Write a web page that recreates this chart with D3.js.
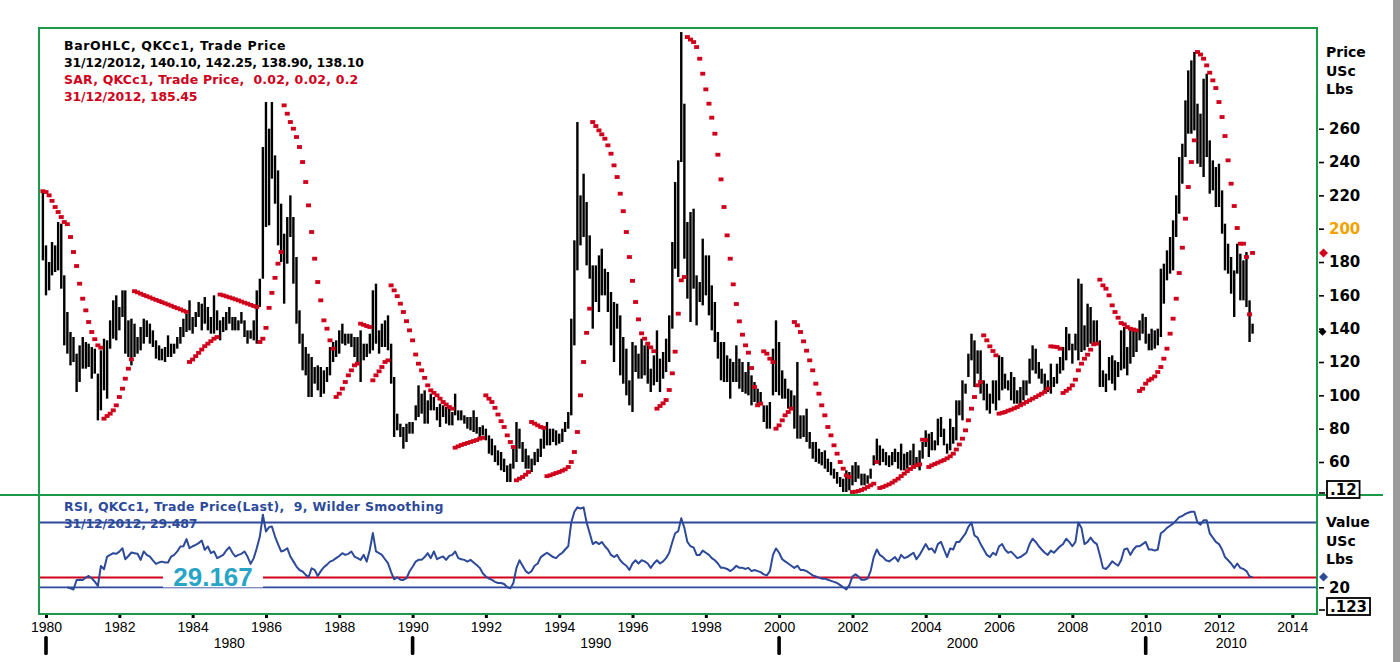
<!DOCTYPE html>
<html>
<head>
<meta charset="utf-8">
<script src="https://cdn.jsdelivr.net/npm/d3@7"></script>
<style>
  body { margin: 0; background: #fff; }
  svg { display: block; }
</style>
</head>
<body>
<div id="chart"></div>
<script>
// monthly bars, first one is Dec 1979
const firstMonth = new Date(1979, 11, 1);

const highs = [223,
  190,180,192,190,204,203,172,150,138,135,125,130,
  135,132,131,129,128,113,127,134,133,145,157,160,
  153,163,163,145,146,143,135,141,146,145,143,139,
  133,130,128,129,136,131,131,135,141,146,149,157,
  147,150,156,155,159,153,147,160,151,145,147,150,
  153,147,147,145,150,145,139,139,145,163,170,249,
  276,260,276,244,235,215,197,207,220,207,183,151,
  137,129,125,123,117,118,117,115,117,129,132,133,
  139,143,137,137,137,135,135,139,131,131,137,163,
  167,139,143,145,148,131,111,89,83,81,83,84,
  84,94,106,101,103,97,101,99,93,95,94,93,
  92,90,101,91,91,88,87,87,91,87,81,82,
  80,76,74,70,67,66,62,58,59,68,84,80,
  72,68,64,62,66,68,74,80,84,80,80,79,
  77,80,84,90,146,193,264,220,233,216,196,178,
  178,184,188,176,174,162,156,155,148,135,128,109,
  132,130,125,134,130,130,116,124,139,122,126,134,
  148,192,228,241,318,275,204,210,212,172,168,194,
  184,184,166,156,138,132,132,124,122,120,130,122,
  120,114,120,112,108,104,102,94,94,96,128,145,
  132,115,110,104,103,100,120,88,88,92,78,72,
  72,68,66,67,62,60,56,54,51,50,55,54,
  58,60,58,53,53,52,56,64,74,70,68,66,
  64,66,68,66,71,65,66,67,71,63,67,72,
  79,77,78,73,86,87,80,71,86,81,97,97,
  109,107,125,137,133,127,127,109,107,101,109,109,
  124,123,113,109,114,111,103,105,109,109,122,130,
  128,120,116,113,109,119,111,119,123,129,141,137,
  131,137,170,167,142,155,153,145,145,133,115,113,
  123,124,121,120,139,141,129,139,139,138,145,149,
  147,137,140,139,140,176,179,187,195,205,220,243,
  251,277,295,301,306,275,269,290,293,253,241,237,
  239,223,203,191,183,175,191,185,181,186,157,143];

const lows = [181,
  160,163,172,174,175,164,130,125,118,120,102,108,
  116,116,117,110,113,85,91,103,98,128,134,133,
  139,147,125,123,118,123,125,127,131,135,131,129,
  122,121,121,120,123,123,125,128,131,135,138,139,
  137,141,147,139,143,139,137,137,139,133,138,139,
  143,139,139,139,143,135,131,134,133,131,153,170,
  201,202,230,215,190,180,155,179,195,167,143,131,
  115,112,99,99,107,103,99,101,108,112,120,123,
  125,131,130,131,129,123,119,108,121,123,125,127,
  131,125,129,129,127,107,75,79,75,68,72,77,
  77,85,87,89,83,83,91,91,85,81,87,83,
  82,82,88,85,85,83,80,79,78,77,74,76,
  73,65,64,60,58,55,54,48,48,56,60,68,
  60,56,56,54,58,60,63,68,70,70,72,70,
  71,72,78,80,88,130,175,190,195,178,170,140,
  156,150,160,160,150,130,120,140,112,107,100,94,
  90,114,110,110,112,107,102,106,108,102,110,114,
  120,140,176,171,240,182,158,144,164,142,156,154,
  160,148,139,132,122,109,108,108,98,108,108,104,
  102,101,100,94,96,95,96,84,80,80,100,102,
  100,98,98,92,93,80,74,74,75,72,68,62,
  60,59,58,56,54,52,50,47,45,42,42,43,
  46,48,50,46,46,47,50,58,60,58,60,58,
  57,58,60,56,55,55,56,58,58,58.5,55,62,
  69,63,67,67,70,75,70,65,67,71,73,88,
  85,101,111,121,105,113,101,97,91,89,95,91,
  97,103,104,103,97,95,95,95,97,100,107,115,
  113,110,107,103,102,101,105,107,113,115,121,127,
  119,127,121,126,127,129,131,131.5,132,105,105,102,
  109,107,103,111,115,116,112,119,123,126,133,137,
  131,127,127,128,130,135,155,169,173,175,195,209,
  227,243,257,257,259,239,237,231,243,221,223,213,
  213,197,175,173,161,147,173,157,157,153,132,137];

// parabolic SAR, one dot per bar
const sar = [
  222.5,222,220,216.7,213,210,207,204,202.7,195,186,177.6,167,158,151,144,138,133.7,130,128.6,
  86,87.6,89,91,94,99,104,110,116,121.6,
  162.5,161.8,161,160.2,159.5,158.8,158,157.3,156.6,155.9,155.2,154.5,153.8,153,152.3,151.6,150.8,150.1,
  120,121.5,123.5,125.5,127.5,129.5,131,132.5,134,135,
  160.5,160,159.4,158.8,158.2,157.6,157,156.3,155.6,155,154.3,153.6,153,
  132,134,140.5,152.5,161.5,170.5,179,186,
  274,269,264,260,255,249,240,228,214,198,182,168,157,145,140,133,128,
  99,101,104,108,112,115,118,119,
  143,142.3,141.6,141,
  109,112,114.4,117,120,121,
  166,163,159.5,155,150,144.5,139,133,124.5,119,115,110.5,106,103,101.5,100,98,96,94.5,93,92,
  68.6,69.4,70.2,70.8,71.4,72,72.6,73.2,74,74.5,
  100,98,96,92.5,88.5,84.5,81,76,72,69,
  49,50,51,52.4,54,
  84,83,82,81,80.5,
  51.5,52,52.7,53.4,54,54.8,55.6,57,60,66,78,100,120,137.5,152,
  264,261.6,259,256.6,254,250,245,238,231,221,210.5,198,183,168.7,156,145.6,137.2,134,131,128.8,126.5,
  92,93.6,95.2,97.2,103.2,113.2,126.2,149,169,171,
  315,313.5,312,309,302,293,283.6,275,266.6,257,244.4,229.6,213,196,182,166.6,154.8,144.4,136.4,130,125.6,116.4,105,
  94,95,
  126.4,125,122,120,
  80,82,85,88,90,92,
  144,142,138,132.4,126.8,121,115,107,101,94,88,81,76,70,65,60,56,52,51,
  42,42.2,42.6,43.2,44,45,46,47,
  60,
  44.4,45,45.8,46.6,47.6,48.8,50,51.5,53,54.5,55.8,57,58,58.6,
  73.4,73.2,
  57,58,58.8,59.6,60.4,61.2,62.2,63.4,65,67.5,70.5,74,79,85,92,99,106,108,
  136,133,129.4,126.6,124,
  89,89.5,90,90.8,91.4,92.2,93,94,95,96,97,98,99,100,101,102,104,
  129.4,129.2,129,128,
  101.4,102.7,104,106,109.4,115,119,122,124.4,127.4,130.6,131,
  169.4,166,164,160,154,150,146.6,143.4,142.6,141,140,139.5,139,
  102.6,104,107,109,110,111.4,114,117,122,128,137,146,158,173.4,188.6,206,225,240,253,
  306,304.5,302,298,293.6,289,284.4,276,267,255.6,241,227,213.6,200.4,191,191,183,148.6,185.45];

// RSI(9), first value Aug 1980
const rsiFirstMonth = new Date(1980, 7, 1);
const rsi = [
  20,19,18,26.8,27,26.8,29,30.5,28.4,25.3,
  21.2,39.8,36.7,48.5,50,51.6,51,53,56.2,46,
  49,52.2,51.6,51,45.4,53.2,50,48.5,45,41.7,
  43,43.8,43,42.9,48.5,50,53.2,57.8,58,64.6,
  56.2,58,59.3,60.9,63.3,54.7,57.8,51.6,53.2,47,
  48.5,50,54.1,57.2,52,48.5,50,51,53.2,48.5,
  41.7,47,56.2,67,87.2,71.7,75.7,76.3,67,60,
  53.2,54,56.2,48.5,44,39.2,36,34.6,31.5,29.3,
  37.6,36.1,30.5,35,38.6,41,43.8,45,47,49,
  51.6,50,51,53.2,48.5,47,45.4,50,43.8,55,
  70.2,53.2,51.6,50,46,42.3,34,27.4,29.3,27,
  26.8,28.4,34.6,39,43.8,45.4,45.4,48,51.6,47,
  53.2,46,47.5,48.5,45.4,49.1,50,53.2,47,46,
  45.4,43.8,45.4,43,40.7,
  38,33,30,28,27,25,24,24,23,20,
  19,24,38,45,40,35,33,35,40,42,
  48,50,52,50,48,47,50,52,55,58,
  80,90,94,93,94,80,70,60,62,60,
  62,58,55,50,48,50,45,42,40,36,
  42,45,42,45,44,42,38,42,45,42,
  44,47,52,62,70,72,84,75,62,58,
  57,50,50,54,52,50,47,45,42,38,
  38,37,35,37,40,38,38,37,38,35,
  36,35,34,32,31,35,50,56,52,46,
  44,42,40,38,40,36,36,35,33,31,
  30,29,28,28,27,26,25,24,22,20,
  18,22,30,32,30,27,27,28,35,48,
  55,50,48,45,44,46,48,44,50,47,
  48,50,52,46,50,55,60,55,56,52,
  60,62,55,48,56,55,62,62,66,70,
  76,80,68,66,60,55,50,48,52,50,
  58,60,55,52,53,50,47,48,50,52,
  60,65,62,58,55,52,50,54,52,55,
  58,60,65,62,58,62,80,75,60,62,
  66,62,60,50,38,37,40,44,42,40,
  45,55,56,50,55,58,58,60,62,55,
  55,54,55,70,72,75,77,79,82,85,
  86,88,89,90,90,80,78,82,82,70,
  66,62,60,55,48,45,42,38,42,38,
  37,35,30,29.5];

const priceTicks = [60, 80, 100, 120, 140, 160, 180, 200, 220, 240, 260];
const rsiTicks = [20];
const rsiLevels = [80, 20];
const rsiAlert = 29.167;
const yearTicks = d3.range(1980, 2015, 2);
const decades = [1980, 1990, 2000, 2010];
const lastClose = 138.10, lastSar = 185.45, lastRsi = 29.487;

const legendPrice = ["BarOHLC, QKCc1, Trade Price", "31/12/2012, 140.10, 142.25, 138.90, 138.10"];
const legendSar = ["SAR, QKCc1, Trade Price,  0.02, 0.02, 0.2", "31/12/2012, 185.45"];
const legendRsi = ["RSI, QKCc1, Trade Price(Last),  9, Wilder Smoothing", "31/12/2012, 29.487"];

const W = 1400, H = 662;
const L = 39, R = 1317, T = 28, MID = 495, B = 614;
const GREEN = "#1a9a48", RED = "#d0021b", BLUE = "#2d4a9a";
const BOLD = "DejaVu Sans, Verdana, sans-serif", PLAIN = "Liberation Sans, Arial, sans-serif";

const svg = d3.select("#chart").append("svg").attr("width", W).attr("height", H);
svg.append("rect").attr("width", W).attr("height", H).attr("fill", "#fff");

const month = i => d3.timeMonth.offset(firstMonth, i);
const x = d3.scaleTime().domain([new Date(1980, 0, 1), new Date(2010, 0, 1)]).range([46, 1145.7]);
const y = d3.scaleLinear().domain([60, 260]).range([462, 128.7]);
const yr = d3.scaleLinear().domain([20, 80]).range([587.3, 522.5]);

const defs = svg.append("defs");
defs.append("clipPath").attr("id", "cp").append("rect").attr("x", L).attr("y", T).attr("width", R - L).attr("height", MID - T);
defs.append("clipPath").attr("id", "cr").append("rect").attr("x", L).attr("y", MID).attr("width", R - L).attr("height", B - MID);

// price panel
const gp = svg.append("g").attr("clip-path", "url(#cp)");
gp.selectAll("line.bar").data(highs).join("line").attr("class", "bar")
  .attr("x1", (d, i) => x(month(i))).attr("x2", (d, i) => x(month(i)))
  .attr("y1", d => y(d)).attr("y2", (d, i) => y(lows[i]))
  .attr("stroke", "#000").attr("stroke-width", 2.4);
gp.selectAll("rect.sar").data(sar).join("rect").attr("class", "sar")
  .attr("x", (d, i) => x(month(i)) - 2.5).attr("y", d => y(d) - 1.9)
  .attr("width", 5).attr("height", 3.8).attr("fill", RED);

function legendLine(g, t, px, py, color, spacing) {
  g.append("text").attr("x", px).attr("y", py).attr("fill", color)
    .attr("letter-spacing", spacing).style("white-space", "pre").text(t);
}
const legend = svg.append("g").attr("font-family", BOLD).attr("font-weight", "bold").attr("font-size", 12.5);
legendLine(legend, legendPrice[0], 64, 50, "#000", 0.65);
legendLine(legend, legendPrice[1], 64, 67, "#000", -0.2);
legendLine(legend, legendSar[0], 64, 84, RED, 0.2);
legendLine(legend, legendSar[1], 64, 101, RED, -0.15);

// RSI panel
const gr = svg.append("g");
const rl = gr.append("g").attr("font-family", BOLD).attr("font-weight", "bold").attr("font-size", 12.5);
legendLine(rl, legendRsi[0], 64, 511, BLUE, 0.3);
legendLine(rl, legendRsi[1], 64, 528, BLUE, -0.15);
gr.selectAll("line.lvl").data(rsiLevels).join("line").attr("class", "lvl")
  .attr("x1", L).attr("x2", R).attr("y1", d => yr(d)).attr("y2", d => yr(d))
  .attr("stroke", BLUE).attr("stroke-width", 1.8);
gr.append("line").attr("x1", L).attr("x2", R).attr("y1", yr(rsiAlert)).attr("y2", yr(rsiAlert))
  .attr("stroke", RED).attr("stroke-width", 2);
const rsiOffset = d3.timeMonth.count(firstMonth, rsiFirstMonth);
gr.append("path").attr("clip-path", "url(#cr)").datum(rsi)
  .attr("d", d3.line().x((d, i) => x(month(rsiOffset + i))).y(d => yr(d)))
  .attr("fill", "none").attr("stroke", BLUE).attr("stroke-width", 2).attr("stroke-linejoin", "round");
gr.append("rect").attr("x", 163).attr("y", yr(rsiAlert) - 10).attr("width", 100).attr("height", 20).attr("fill", "#fff");
gr.append("text").attr("x", 213).attr("y", yr(rsiAlert) + 9).attr("text-anchor", "middle")
  .attr("font-family", PLAIN).attr("font-size", 26).attr("font-weight", "bold")
  .attr("fill", "#27a4c6").text(rsiAlert.toFixed(3));

// frames
const frame = svg.append("g").attr("stroke", GREEN).attr("stroke-width", 2);
frame.append("line").attr("x1", L).attr("x2", R).attr("y1", T).attr("y2", T);
frame.append("line").attr("x1", L).attr("x2", L).attr("y1", T - 1).attr("y2", B + 1);
frame.append("line").attr("x1", R).attr("x2", R).attr("y1", T - 1).attr("y2", B + 1);
frame.append("line").attr("x1", 0).attr("x2", 1383).attr("y1", MID).attr("y2", MID);
frame.append("line").attr("x1", L).attr("x2", R).attr("y1", B).attr("y2", B);
svg.append("rect").attr("x", 1393).attr("y", 0).attr("width", 7).attr("height", H).attr("fill", "#9b9b9b");

// right axes
function styleAxis(g, colorOf) {
  g.select(".domain").remove();
  g.selectAll(".tick line").attr("stroke", "#000").attr("stroke-width", 1.6);
  g.selectAll(".tick text").attr("font-family", BOLD).attr("font-weight", "bold").attr("font-size", 15)
    .attr("fill", colorOf || "#000");
}
svg.append("g").attr("transform", `translate(${R + 2},0)`)
  .call(d3.axisRight(y).tickValues(priceTicks).tickSize(5).tickPadding(5))
  .call(g => styleAxis(g, d => d === 200 ? "#f2a200" : "#000"));
svg.append("g").attr("transform", `translate(${R + 2},0)`)
  .call(d3.axisRight(yr).tickValues(rsiTicks).tickSize(5).tickPadding(5))
  .call(g => styleAxis(g));

const unit = svg.append("g").attr("font-family", BOLD).attr("font-weight", "bold").attr("font-size", 14).attr("fill", "#000");
["Price", "USc", "Lbs"].forEach((t, i) => unit.append("text").attr("x", 1326).attr("y", 57 + i * 18.5).text(t));
["Value", "USc", "Lbs"].forEach((t, i) => unit.append("text").attr("x", 1326).attr("y", 527 + i * 18.5).text(t));

function diamond(cx, cy, r, fill) {
  svg.append("path").attr("d", `M${cx - r},${cy}L${cx},${cy - r}L${cx + r},${cy}L${cx},${cy + r}Z`).attr("fill", fill);
}
diamond(1323.5, y(lastSar), 4.5, RED);
diamond(1322.5, y(lastClose), 4, "#000");
diamond(1323.5, yr(lastRsi), 4.5, BLUE);

// boxed value tags at the foot of each right axis
function tag(label, top, tickY) {
  svg.append("line").attr("x1", R + 2).attr("x2", R + 8).attr("y1", tickY).attr("y2", tickY)
    .attr("stroke", "#000").attr("stroke-width", 1.6);
  const box = svg.append("rect").attr("x", 1327).attr("y", top).attr("height", 17)
    .attr("fill", "#fff").attr("stroke", "#000").attr("stroke-width", 1.8);
  const t = svg.append("text").attr("x", 1330).attr("y", top + 14).attr("font-family", BOLD)
    .attr("font-weight", "bold").attr("font-size", 15).text(label);
  box.attr("width", t.node().getComputedTextLength() + 6);
}
tag(".12", 481, 493);
tag(".123", 598, 610);

// time axis
const ax = svg.append("g").attr("transform", `translate(0,${B + 1})`)
  .call(d3.axisBottom(x).tickValues(yearTicks.map(v => new Date(v, 0, 1)))
    .tickSize(3).tickPadding(4).tickFormat(d3.timeFormat("%Y")));
ax.select(".domain").remove();
ax.selectAll(".tick line").attr("stroke", "#000").attr("stroke-width", 3);
ax.selectAll(".tick text").attr("font-family", PLAIN).attr("font-size", 14).attr("fill", "#000");

const dec = svg.append("g");
dec.selectAll("rect").data(decades).join("rect")
  .attr("x", d => x(new Date(d, 0, 1)) - 1.8).attr("y", 636).attr("width", 3.6).attr("height", 19)
  .attr("rx", 1.5).attr("fill", "#000");
dec.selectAll("text").data(decades).join("text")
  .attr("x", d => (x(new Date(d, 0, 1)) + Math.min(x(new Date(d + 10, 0, 1)), R)) / 2)
  .attr("y", 648).attr("text-anchor", "middle")
  .attr("font-family", PLAIN).attr("font-size", 14).text(d => d);
</script>
</body>
</html>
